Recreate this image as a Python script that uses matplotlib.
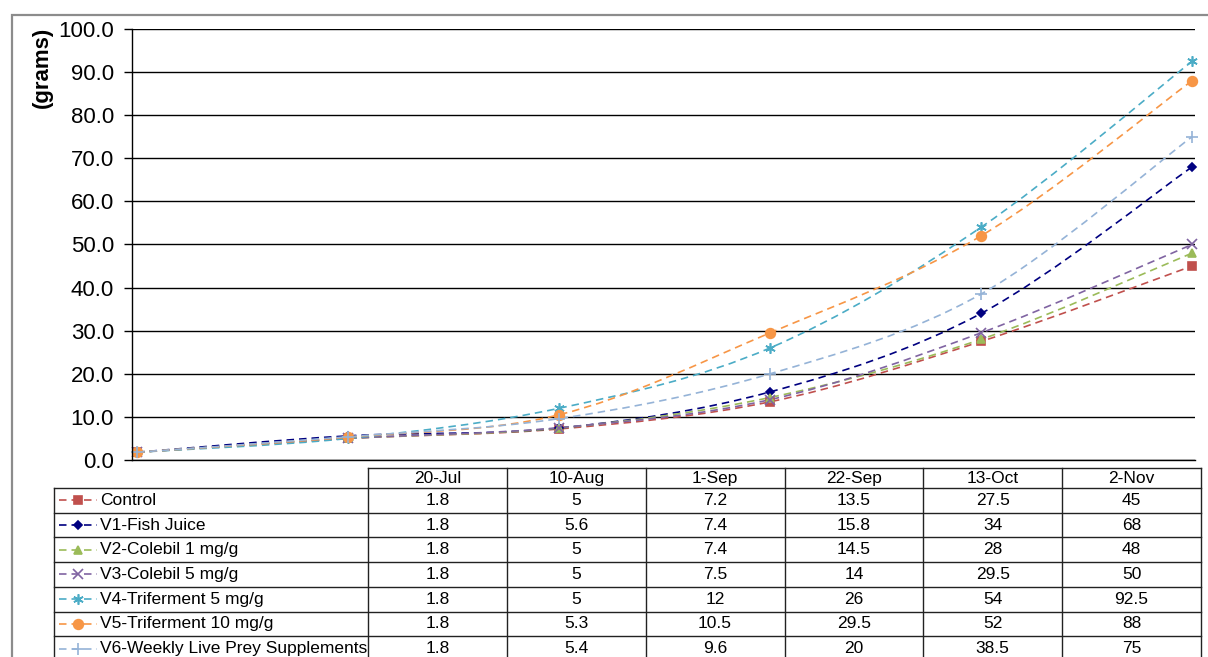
import matplotlib
matplotlib.use("Agg")
import matplotlib.pyplot as plt
import numpy as np
from matplotlib.path import Path
from matplotlib.patches import PathPatch, Rectangle
from matplotlib.lines import Line2D

plt.rcParams['font.family'] = ['Liberation Sans', 'DejaVu Sans']

dates = ['20-Jul', '10-Aug', '1-Sep', '22-Sep', '13-Oct', '2-Nov']
names = ['Control', 'V1-Fish Juice', 'V2-Colebil 1 mg/g', 'V3-Colebil 5 mg/g',
         'V4-Triferment 5 mg/g', 'V5-Triferment 10 mg/g',
         'V6-Weekly Live Prey Supplements']
control = [1.8, 5, 7.2, 13.5, 27.5, 45]
v1 = [1.8, 5.6, 7.4, 15.8, 34, 68]
v2 = [1.8, 5, 7.4, 14.5, 28, 48]
v3 = [1.8, 5, 7.5, 14, 29.5, 50]
v4 = [1.8, 5, 12, 26, 54, 92.5]
v5 = [1.8, 5.3, 10.5, 29.5, 52, 88]
v6 = [1.8, 5.4, 9.6, 20, 38.5, 75]
series = [control, v1, v2, v3, v4, v5, v6]
labels_fmt = [[('%g' % v) for v in s] for s in series]

colors = ['#C0504D', '#000080', '#9BBB59', '#8064A2', '#4BACC6', '#F79646', '#95B3D7']
markers = ['s', 'D', '^', 'x', (6, 2, 0), 'o', '+']
msizes = [5.5, 4.5, 6, 6.5, 7.5, 7, 8]

W, H = 1208, 657
def fx(x):
    return x / W
def fy(y):
    return 1 - y / H

fig = plt.figure(figsize=(W / 100, H / 100), dpi=100)

# outer frame
fig.add_artist(Rectangle((fx(12), fy(700)), fx(1250) - fx(12), fy(15) - fy(700),
                         transform=fig.transFigure, fill=False, ec='#8c8c8c', lw=1.6))

ax = fig.add_axes([fx(132), fy(460), fx(1195) - fx(132), fy(29) - fy(460)])
ax.set_xlim(-0.024, 5.014)
ax.set_ylim(0, 100)
ax.set_yticks(np.arange(0, 101, 10))
ax.set_yticklabels(['%.1f' % v for v in np.arange(0, 101, 10)], fontsize=16)
ax.tick_params(axis='y', length=6, width=1, pad=7, color='black')
ax.set_xticks([])
ax.yaxis.grid(True, color='black', lw=1)
ax.set_axisbelow(True)
for sp in ['top', 'right']:
    ax.spines[sp].set_visible(False)
ax.spines['left'].set_linewidth(1)
ax.spines['bottom'].set_linewidth(1)

fig.text(fx(42), fy(67), '(grams)', rotation=90, fontsize=16, fontweight='bold',
         ha='center', va='center')

dash = (0, (4.5, 3))
x = np.arange(len(dates))


def smooth_path(xs, ys):
    # Bezier segments like a spreadsheet "smoothed line"
    pts = np.column_stack([xs, ys]).astype(float)
    ext = np.vstack([pts[0], pts, pts[-1]])
    verts = [pts[0]]
    codes = [Path.MOVETO]
    for i in range(len(pts) - 1):
        p0, p1, p2, p3 = ext[i], ext[i + 1], ext[i + 2], ext[i + 3]
        c1 = p1 + (p2 - p0) / 6
        c2 = p2 - (p3 - p1) / 6
        verts += [c1, c2, p2]
        codes += [Path.CURVE4] * 3
    return Path(verts, codes)


for s, c, m, ms in zip(series, colors, markers, msizes):
    ax.add_patch(PathPatch(smooth_path(x, s), fill=False, ec=c, lw=1.2, linestyle=dash))
    ax.plot(x, s, linestyle='none', marker=m, color=c, ms=ms, mew=1.2, clip_on=False)

# data table
col_edges = np.linspace(368, 1201, len(dates) + 1)
row_top = 488
row_h = 24.7
n = len(series)
row_edges = [row_top + i * row_h for i in range(n + 1)]
lc = '#222222'
# header row
fig.add_artist(Line2D([fx(368), fx(1201)], [fy(468), fy(468)], color=lc, lw=1))
for xe in col_edges:
    fig.add_artist(Line2D([fx(xe), fx(xe)], [fy(468), fy(H + 10)], color=lc, lw=1))
fig.add_artist(Line2D([fx(54), fx(54)], [fy(row_top), fy(H + 10)], color=lc, lw=1))
for ye in row_edges:
    fig.add_artist(Line2D([fx(54), fx(1201)], [fy(ye), fy(ye)], color=lc, lw=1))
for j, d in enumerate(dates):
    cx = (col_edges[j] + col_edges[j + 1]) / 2
    fig.text(fx(cx), fy(478.5), d, fontsize=12.5, ha='center', va='center')
for i, (nm, c, m, ms) in enumerate(zip(names, colors, markers, msizes)):
    cy = row_edges[i] + row_h / 2
    fig.add_artist(Line2D([fx(59), fx(97)], [fy(cy), fy(cy)], color=c, lw=1.2, linestyle=dash))
    fig.add_artist(Line2D([fx(78)], [fy(cy)], color=c, marker=m, ms=ms, mew=1.2))
    fig.text(fx(100), fy(cy), nm, fontsize=12.5, ha='left', va='center')
    for j in range(len(dates)):
        cx = (col_edges[j] + col_edges[j + 1]) / 2
        fig.text(fx(cx), fy(cy), labels_fmt[i][j], fontsize=12.5, ha='center', va='center')

fig.savefig('out.png', dpi=100)
